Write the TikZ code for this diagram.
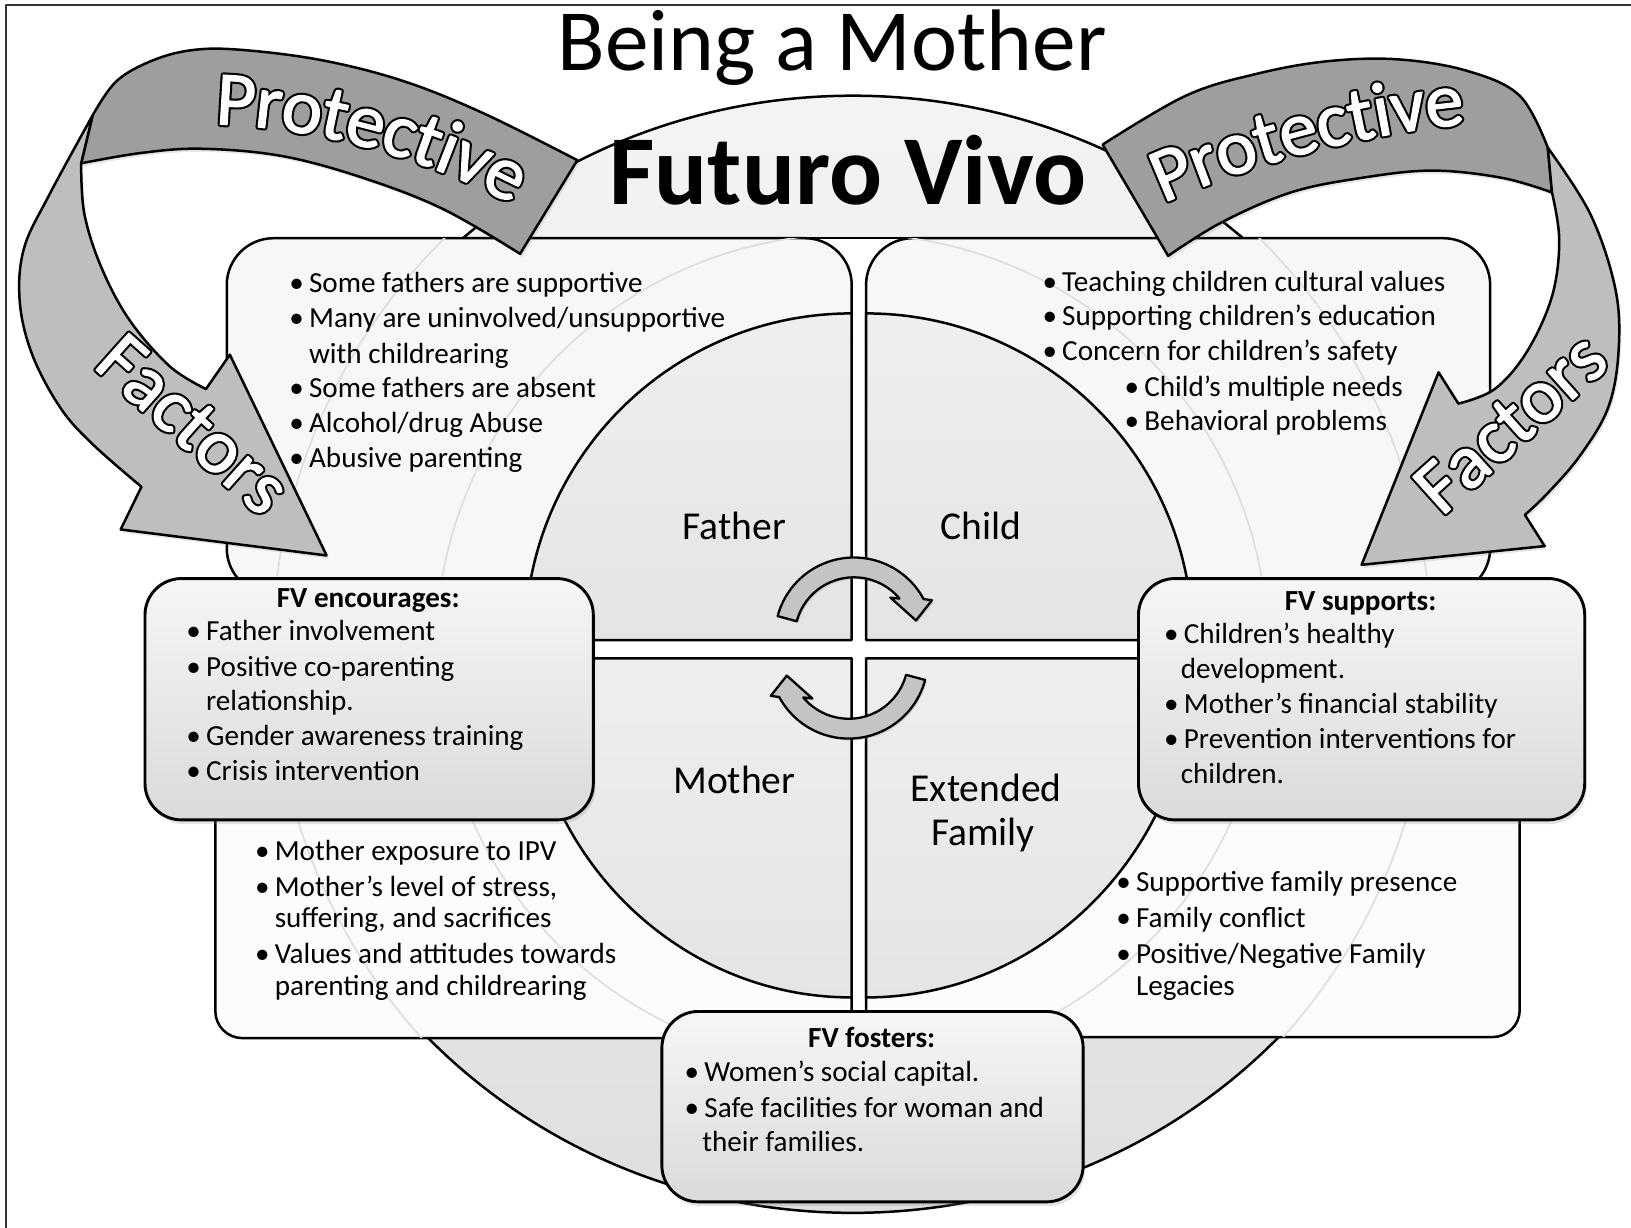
\documentclass[tikz,border=0pt]{standalone}
\usepackage{fontspec}
\setmainfont{Carlito}
\newfontfamily\rimfamily{Carlito}[FakeBold=7]
\newfontfamily\facefamily{Carlito}[FakeBold=1.5]
\usetikzlibrary{decorations.text,shadows}

\definecolor{ellTop}{gray}{0.955}
\definecolor{ellBot}{gray}{0.875}
\definecolor{boxUpper}{gray}{0.970}
\definecolor{boxLower}{gray}{0.988}
\definecolor{quadTop}{gray}{0.935}
\definecolor{quadBot}{gray}{0.895}
\definecolor{fvTop}{gray}{0.965}
\definecolor{fvBot}{gray}{0.855}
\definecolor{ribDark}{gray}{0.62}
\definecolor{ribLight}{gray}{0.745}
\definecolor{cycGray}{gray}{0.77}

% bullet hanging to the left of the text start
\newcommand\bul{\llap{\textbullet\hspace{5pt}}}
\newcommand\ribbonfont{\facefamily\fontsize{74}{74}\selectfont}
\newcommand\rimfont{\rimfamily\fontsize{74}{74}\selectfont}

% white lettering with a black rim, set along a curve:
% a heavily stroked black copy underneath, the white letters on top
\newcommand\ribbonword[2]{%
  \path[decorate, decoration={text along path, text align=center,
    raise=-22pt, text={|\rimfont\color{black}|#1}}] #2;
  \path[decorate, decoration={text along path, text align=center,
    raise=-22pt, text={|\ribbonfont\color{white}|#1}}] #2;
}

% the cycle arrow above the centre; the lower one is the same turned half way round
\newcommand\cyclepath{(747.6,592.3) arc[start angle=195, end angle=331.7, radius=76]
  -- (896,577) -- (880.6,596.5) -- (856,574.5) -- (864.8,575.5)
  arc[start angle=320.2, end angle=195, radius=57] -- cycle}

\begin{document}
\begin{tikzpicture}[x=1pt, y=-1pt, line join=round,
  outline/.style={draw=black, line width=2.4pt},
  txt/.style={font=\fontsize{28}{34}\selectfont, inner sep=0pt, anchor=base west},
  ttl/.style={font=\fontsize{28}{34}\selectfont\bfseries, inner sep=0pt, anchor=base},
  quadlabel/.style={font=\fontsize{38}{44}\selectfont, inner sep=0pt, anchor=base},
  faint/.style={draw=black!13, line width=1.6pt},
  quad/.style={outline, top color=quadTop, bottom color=quadBot},
  fvbox/.style={outline, line width=2.8pt, rounded corners=35pt, top color=fvTop,
    bottom color=fvBot, inner sep=0pt,
    drop shadow={opacity=0.22, shadow xshift=2pt, shadow yshift=-4pt}},
  ribdark/.style={outline, fill=ribDark,
    drop shadow={opacity=0.2, shadow xshift=2pt, shadow yshift=-3pt}},
  riblight/.style={outline, fill=ribLight,
    drop shadow={opacity=0.2, shadow xshift=2pt, shadow yshift=-3pt}},
  cyc/.style={outline, line width=2.2pt, fill=cycGray,
    drop shadow={opacity=0.25, shadow xshift=1.5pt, shadow yshift=-2pt}}
]
\useasboundingbox (0,0) rectangle (1568,1180);

% frame
\draw[line width=1.8pt, black!80] (6,1195) -- (6,5) -- (1590,5);

% background disc
\path[outline, top color=ellTop, bottom color=ellBot] (820,629) ellipse[x radius=562, y radius=537];

% white gaps between the four panels
\fill[white] (818.8,229) rectangle (832.6,998);
\fill[white] (774,229) rectangle (877,280);
\draw[outline] (773.8,229) -- (877.6,229);

% four outer panels
\path[outline, fill=boxUpper, rounded corners=45pt] (218,229) rectangle (818.8,572);
\path[outline, fill=boxUpper, rounded corners=45pt] (832.6,229) rectangle (1432.6,572);
\path[outline, fill=boxLower, rounded corners=26pt] (207,690) rectangle (818.8,998);
\path[outline, fill=boxLower, rounded corners=26pt] (832.6,690) rectangle (1461,997);

% faint rings seen through the panels
\begin{scope}
  \clip[rounded corners=45pt] (218,229) rectangle (818.8,572) (832.6,229) rectangle (1432.6,572)
    [rounded corners=26pt] (207,690) rectangle (818.8,998) (832.6,690) rectangle (1461,997);
  \draw[faint] (819,625) circle[radius=400];
  \draw[faint] (819,625) circle[radius=557];
\end{scope}

% centre circle in four quarters
\fill[white] (500,615.3) rectangle (1150,632.9);
\path[quad] (818.8,615.3) -- (504.8,615.3) arc[start angle=180, end angle=270, radius=314] -- cycle;
\path[quad] (832.6,615.3) -- (832.6,301.3) arc[start angle=270, end angle=360, radius=314] -- cycle;
\path[quad] (818.8,632.9) -- (504.8,632.9) arc[start angle=180, end angle=90, x radius=314, y radius=326] -- cycle;
\path[quad] (832.6,632.9) -- (832.6,958.9) arc[start angle=90, end angle=0, x radius=314, y radius=326] -- cycle;

\node[quadlabel] (father) at (706,519) {Father};
\node[quadlabel] (child) at (943,519) {Child};
\node[quadlabel] (mother) at (706,763) {Mother};
\node[quadlabel] (extended) at (948,771) {Extended};
\node[quadlabel] (family) at (945,813) {Family};

% cycle arrows
\path[cyc] \cyclepath;
\path[cyc, rotate around={180:(818.5,623)}] \cyclepath;

% panel texts
\node[txt] (tl1) at (297,281) {\bul Some fathers are supportive};
\node[txt] (tl2) at (297,315) {\bul Many are uninvolved/unsupportive};
\node[txt] (tl3) at (297,349) {with childrearing};
\node[txt] (tl4) at (297,382) {\bul Some fathers are absent};
\node[txt] (tl5) at (297,416) {\bul Alcohol/drug Abuse};
\node[txt] (tl6) at (297,449) {\bul Abusive parenting};

\node[txt] (tr1) at (1021,280) {\bul Teaching children cultural values};
\node[txt] (tr2) at (1021,313) {\bul Supporting children’s education};
\node[txt] (tr3) at (1021,347) {\bul Concern for children’s safety};
\node[txt] (tr4) at (1100,381) {\bul Child’s multiple needs};
\node[txt] (tr5) at (1100,414) {\bul Behavioral problems};

\node[txt] (bl1) at (264,827) {\bul Mother exposure to IPV};
\node[txt] (bl2) at (264,862) {\bul Mother’s level of stress,};
\node[txt] (bl3) at (264,892) {suffering, and sacrifices};
\node[txt] (bl4) at (264,926) {\bul Values and attitudes towards};
\node[txt] (bl5) at (264,957) {parenting and childrearing};

\node[txt] (br1) at (1092,857) {\bul Supportive family presence};
\node[txt] (br2) at (1092,892) {\bul Family conflict};
\node[txt] (br3) at (1092,926) {\bul Positive/Negative Family};
\node[txt] (br4) at (1092,957) {Legacies};

% FV boxes
\node[fvbox, minimum width=431pt, minimum height=232pt] (enc) at (354.9,672.2) {};
\node[ttl] (encT) at (354,584) {FV encourages:};
\node[txt] (enc1) at (198,616) {\bul Father involvement};
\node[txt] (enc2) at (198,650) {\bul Positive co-parenting};
\node[txt] (enc3) at (198,683) {relationship.};
\node[txt] (enc4) at (198,717) {\bul Gender awareness training};
\node[txt] (enc5) at (198,750) {\bul Crisis intervention};

\node[fvbox, minimum width=429pt, minimum height=232pt] (sup) at (1309,672.2) {};
\node[ttl] (supT) at (1308,587) {FV supports:};
\node[txt] (sup1) at (1138,619) {\bul Children’s healthy};
\node[txt] (sup2) at (1135,652) {development.};
\node[txt] (sup3) at (1138,686) {\bul Mother’s financial stability};
\node[txt] (sup4) at (1138,720) {\bul Prevention interventions for};
\node[txt] (sup5) at (1135,753) {children.};

\node[fvbox, minimum width=405pt, minimum height=183pt] (fos) at (838.8,1063.9) {};
\node[ttl] (fosT) at (838,1007) {FV fosters:};
\node[txt] (fos1) at (677,1040) {\bul Women’s social capital.};
\node[txt] (fos2) at (677,1074) {\bul Safe facilities for woman and};
\node[txt] (fos3) at (675,1107) {their families.};

% left ribbon arrow
\path[ribdark] plot[smooth, tension=0.6] coordinates {(555,154) (465,109) (388,78) (310,58) (233,48) (186,48) (147,58) (112,78) (89,111)}
  -- (78,157) -- plot[smooth, tension=0.6] coordinates {(78,157) (136,147) (194,143) (271,150) (349,171) (426,201) (500,244)} -- cycle;
\path[riblight] plot[smooth, tension=0.6] coordinates {(89,111) (47,188) (23,239) (19,290) (31,341) (58,392) (89,427) (136,468)}
  -- (116,509) -- (314,534) -- (221,341) -- (198,374)
  -- plot[smooth, tension=0.6] coordinates {(198,374) (163,352) (124,307) (97,256) (81,205) (78,157)} -- cycle;

% right ribbon arrow
\path[ribdark] plot[smooth, tension=0.6] coordinates {(1060,139) (1140,92) (1208,71) (1275,59) (1343,57) (1410,68) (1461,92) (1488,142)}
  -- (1492,185) -- plot[smooth, tension=0.6] coordinates {(1492,185) (1444,171) (1377,164) (1309,171) (1241,185) (1174,214) (1123,246)} -- cycle;
\path[riblight] plot[smooth, tension=0.6] coordinates {(1488,142) (1529,206) (1553,278) (1556,338) (1546,392) (1519,438) (1488,474) (1466,495)}
  -- (1485,525) -- (1309,543) -- (1383,358) -- (1402,388)
  -- plot[smooth, tension=0.6] coordinates {(1402,388) (1437,374) (1468,338) (1492,285) (1499,231) (1492,185)} -- cycle;

% ribbon lettering
\ribbonword{Protective}{(165,98) .. controls (280,92) and (420,125) .. (540,198)}
\ribbonword{Factors}{(73,309) -- (297,509)}
\ribbonword{Protective}{(1075,192) .. controls (1175,140) and (1320,100) .. (1445,95)}
\ribbonword{Factors}{(1341,508) -- (1565,307)}

% titles
\node[font=\fontsize{84}{90}\selectfont, inner sep=0pt, anchor=base] (title) at (800,68) {Being a Mother};
\node[font=\fontsize{95}{100}\selectfont\bfseries, inner sep=0pt, anchor=base] (fv) at (815,197) {Futuro Vivo};
\end{tikzpicture}
\end{document}
